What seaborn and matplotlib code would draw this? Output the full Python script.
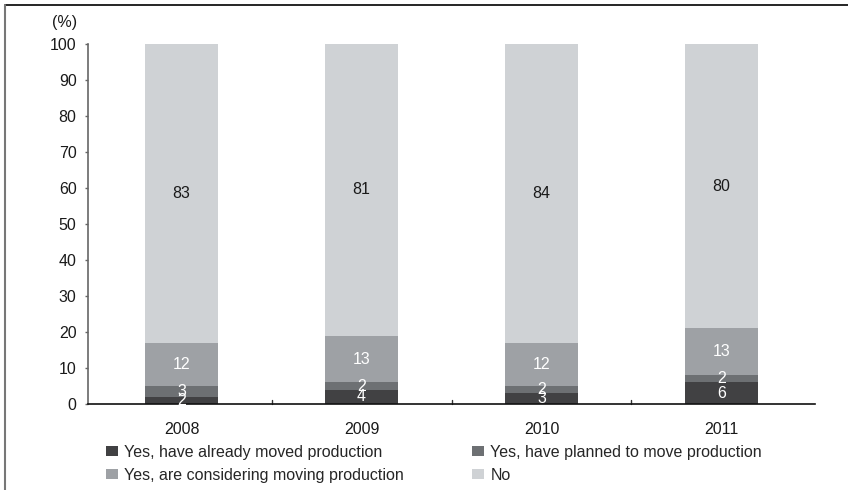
import matplotlib
matplotlib.use("Agg")
import matplotlib.pyplot as plt
from matplotlib.lines import Line2D
from matplotlib.patches import Patch
import seaborn as sns
import pandas as pd
import numpy as np

years = ["2008", "2009", "2010", "2011"]
series = [
    "Yes, have already moved production",
    "Yes, have planned to move production",
    "Yes, are considering moving production",
    "No",
]
already_moved = [2, 4, 3, 6]
planned = [3, 2, 2, 2]
considering = [12, 13, 12, 13]
no_move = [83, 81, 84, 80]

colors = ["#414143", "#6d7073", "#9ea1a5", "#cfd2d5"]
label_colors = ["white", "white", "white", "#1a1a1a"]

sns.set_theme(style="white")
plt.rcParams["font.family"] = ["Liberation Sans", "DejaVu Sans"]
FS = 11.5

df = pd.DataFrame({"year": years, series[0]: already_moved, series[1]: planned,
                   series[2]: considering, series[3]: no_move})

W, H = 848, 490
fig = plt.figure(figsize=(W / 100, H / 100), dpi=100)
ax = fig.add_axes([88 / W, 1 - 404 / H, (815 - 88) / W, 360 / H])

ymax = 100
bottom = np.zeros(len(years))
for name, col, tcol in zip(series, colors, label_colors):
    vals = df[name].to_numpy(dtype=float)
    sns.barplot(x=df["year"], y=vals, bottom=bottom, color=col, width=0.405,
                saturation=1, ax=ax, edgecolor="none", linewidth=0)
    for i, v in enumerate(vals):
        top = min(bottom[i] + v, ymax)
        ax.text(i, (bottom[i] + top) / 2, f"{int(v)}", ha="center", va="center",
                color=tcol, fontsize=FS)
    bottom += vals

ax.set_xlim(-0.52, 3.52)
ax.set_ylim(0, ymax)
ax.set_yticks(range(0, 101, 10))
ax.set_xlabel("")
ax.set_ylabel("")
ax.tick_params(axis="y", which="both", left=True, length=2.2, width=1, color="#666666",
               labelsize=FS, pad=6, labelcolor="#1a1a1a")
ax.tick_params(axis="x", bottom=False, labelsize=FS, pad=7, labelcolor="#1a1a1a")
# small upward ticks separating the years
for xb in [0.5, 1.5, 2.5]:
    ax.plot([xb, xb], [0, 1.1], color="#333333", lw=1, clip_on=False)

for s in ["top", "right"]:
    ax.spines[s].set_visible(False)
ax.spines["left"].set_color("#666666")
ax.spines["left"].set_linewidth(1.2)
ax.spines["bottom"].set_color("#111111")
ax.spines["bottom"].set_linewidth(1.2)

fig.text(65 / W, 1 - 22 / H, "(%)", ha="center", va="center", fontsize=FS,
         color="#1a1a1a")

handles = [Patch(facecolor=c, edgecolor="none") for c in colors]
order = [0, 2, 1, 3]
fig.legend([handles[i] for i in order], [series[i] for i in order],
           loc="upper left", bbox_to_anchor=(106 / W, 1 - 445 / H), ncol=2,
           frameon=False, fontsize=FS, handlelength=0.75, handleheight=0.6,
           handletextpad=0.4, columnspacing=4.25, labelspacing=0.48,
           borderaxespad=0, borderpad=0)

# outer frame: black top edge, grey left edge
fig.add_artist(Line2D([5 / W, 1], [1 - 5 / H, 1 - 5 / H], color="black", lw=1.2,
                      transform=fig.transFigure))
fig.add_artist(Line2D([5 / W, 5 / W], [0, 1 - 5 / H], color="#777777", lw=1.5,
                      transform=fig.transFigure))

fig.savefig("out.png", dpi=100)
